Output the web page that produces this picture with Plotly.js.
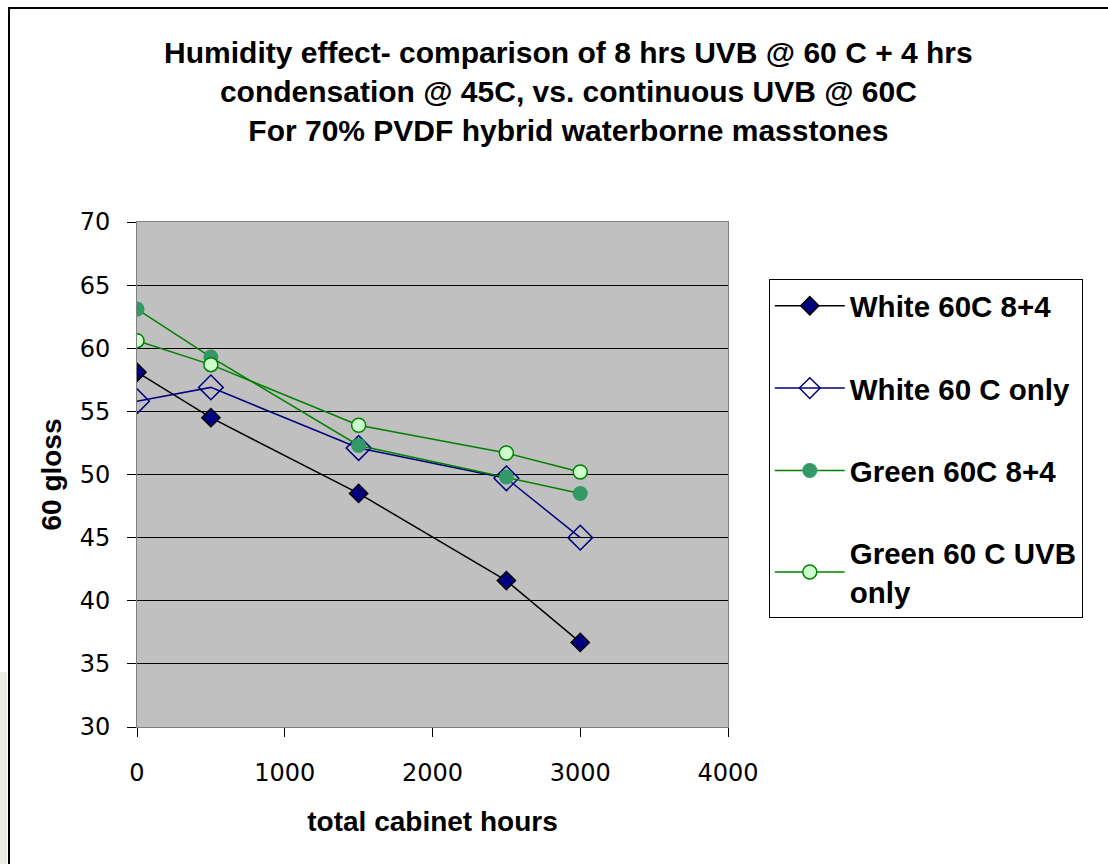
<!DOCTYPE html>
<html>
<head>
<meta charset="utf-8">
<script src="https://cdn.plot.ly/plotly-3.0.1.min.js"></script>
<style>
html,body{margin:0;padding:0;background:#fff;}
#wrap{position:relative;width:1108px;height:864px;overflow:hidden;}
#chart{width:1108px;height:864px;}
#frame{position:absolute;left:8px;top:7px;width:1200px;height:1000px;border-left:2px solid #000;border-top:2px solid #000;pointer-events:none;}
#strip{position:absolute;left:0;top:672px;width:7px;height:192px;background:#EFEEE6;pointer-events:none;}
</style>
</head>
<body>
<div id="wrap"><div id="chart"></div><div id="strip"></div><div id="frame"></div></div>
<script>
const hours = [0, 500, 1500, 2500, 3000];
const seriesNames = ["White 60C 8+4", "White 60 C only", "Green 60C 8+4", "Green 60 C UVB<br>only"];
const white84 = [58.1, 54.5, 48.5, 41.6, 36.7];
const whiteOnly = [55.8, 56.9, 52.1, 49.7, 45.0];
const green84 = [63.1, 59.3, 52.3, 49.8, 48.5];
const greenUVB = [60.6, 58.7, 53.9, 51.7, 50.2];
const titleText = "Humidity effect- comparison of 8 hrs UVB @ 60 C + 4 hrs<br>condensation @ 45C, vs. continuous UVB @ 60C<br>For 70% PVDF hybrid waterborne masstones";
const xTitle = "total cabinet hours";
const yTitle = "60 gloss";

const traces = [
  {x: hours, y: white84, name: seriesNames[0], legendgroup: "a", mode: "lines+markers",
   line: {color: "#000000", width: 1.5},
   marker: {symbol: "diamond", size: 14, color: "#000080", line: {color: "#000000", width: 1.5}}},
  {x: hours, y: whiteOnly, name: seriesNames[1], legendgroup: "b", mode: "lines+markers",
   line: {color: "#000080", width: 1.5},
   marker: {symbol: "diamond-open", size: 19, color: "#000080", line: {color: "#000080", width: 1.5}}},
  {x: hours, y: green84, name: seriesNames[2], legendgroup: "c", mode: "lines+markers",
   line: {color: "#008000", width: 1.5},
   marker: {symbol: "circle", size: 15, color: "#339966", line: {color: "#339966", width: 0}}},
  {x: hours, y: greenUVB, name: seriesNames[3], legendgroup: "d", mode: "lines+markers",
   line: {color: "#008000", width: 1.5},
   marker: {symbol: "circle", size: 14, color: "#CCFFCC", line: {color: "#008000", width: 1.5}}}
];

const fontFam = "Liberation Sans, Arial, sans-serif";
const tickFam = "DejaVu Sans, sans-serif";
const layout = {
  width: 1108, height: 864,
  margin: {l: 137, r: 380, t: 222, b: 137, pad: 0},
  paper_bgcolor: "#ffffff",
  plot_bgcolor: "#C0C0C0",
  font: {family: fontFam, color: "#000", size: 22},
  title: {text: "<b>" + titleText + "</b>", x: 0.513, xanchor: "center", y: 0.927, yanchor: "top",
          font: {family: fontFam, size: 30, color: "#000"}},
  xaxis: {range: [0, 4000], dtick: 1000, tick0: 0, showgrid: false, zeroline: false,
          ticks: "outside", ticklen: 9, tickcolor: "#000", tickwidth: 1, ticklabelstandoff: 15,
          showline: true, linecolor: "#808080", linewidth: 1, mirror: true,
          tickfont: {family: tickFam, size: 24, color: "#000"},
          title: {text: "<b>" + xTitle + "</b>", standoff: 25, font: {family: fontFam, size: 28, color: "#000"}}},
  yaxis: {range: [30, 70], dtick: 5, tick0: 30, showgrid: true, gridcolor: "#000000", gridwidth: 1, zeroline: false,
          ticks: "outside", ticklen: 9, tickcolor: "#000", tickwidth: 1, ticklabelstandoff: 12,
          showline: true, linecolor: "#808080", linewidth: 1, mirror: true,
          tickfont: {family: tickFam, size: 24, color: "#000"},
          title: {text: "<b>" + yTitle + "</b>", standoff: 9, font: {family: fontFam, size: 28, color: "#000"}}},
  legend: {x: 1.069, xanchor: "left", y: 0.887, yanchor: "top",
           bgcolor: "#ffffff", bordercolor: "#000", borderwidth: 1,
           traceorder: "grouped", tracegroupgap: 41, itemwidth: 70,
           font: {family: fontFam, size: 29.5, color: "#000", weight: "bold"}},
  showlegend: true
};

Plotly.newPlot("chart", traces, layout, {displayModeBar: false, staticPlot: true});
</script>
</body>
</html>
